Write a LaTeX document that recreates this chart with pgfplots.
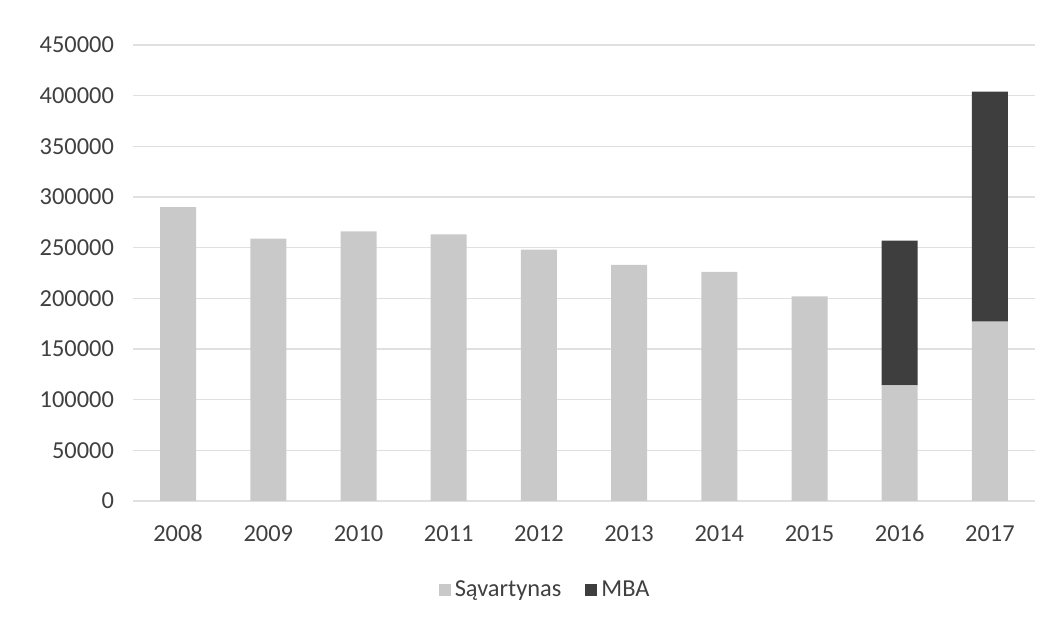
\documentclass[border=0pt]{standalone}
\usepackage{pgfplots}
\pgfplotsset{compat=1.18}
\usepackage{fontspec}
\setmainfont{Carlito}
\definecolor{lightbar}{HTML}{C9C9C9}
\definecolor{darkbar}{HTML}{3E3E3E}
\definecolor{txt}{HTML}{404040}
\definecolor{gridc}{HTML}{E0E0E0}
\begin{document}
\begin{tikzpicture}
\useasboundingbox (-66.5pt,-59.5pt) rectangle (461.5pt,250.5pt);
\begin{axis}[
  at={(0,0)}, anchor=south west,
  scale only axis, width=451pt, height=228pt,
  ybar stacked, bar width=18pt,
  xmin=-0.5, xmax=9.5, ymin=0, ymax=450000,
  xtick={0,...,9},
  xticklabels={2008,2009,2010,2011,2012,2013,2014,2015,2016,2017},
  ytick={0,50000,...,450000},
  scaled y ticks=false,
  y tick label style={/pgf/number format/fixed, /pgf/number format/1000 sep={}},
  /pgf/number format/assume math mode=true,
  axis line style={draw=none},
  major tick length=0pt,
  ymajorgrids, grid style={gridc, line width=0.8pt},
  tick label style={font=\fontsize{12.2}{14}\selectfont, text=txt},
  yticklabel style={xshift=-6pt},
  xticklabel style={anchor=base, yshift=-20.5pt},
  legend style={draw=none, at={(0.458,-0.195)}, anchor=center, font=\fontsize{12.2}{14}\selectfont, text=txt, legend columns=2, /tikz/every even column/.append style={column sep=10pt}},
  legend image code/.code={\fill[#1] (0pt,-3pt) rectangle (6pt,3pt);},
]
\addplot[fill=lightbar, draw=none] coordinates {(0,290000) (1,259000) (2,266000) (3,263000) (4,248000) (5,233000) (6,226000) (7,202000) (8,114000) (9,177000)};
\addplot[fill=darkbar, draw=none] coordinates {(0,0) (1,0) (2,0) (3,0) (4,0) (5,0) (6,0) (7,0) (8,143000) (9,227000)};
\draw[gridc, line width=0.8pt] (axis cs:-0.5,0) -- (axis cs:9.5,0);
\legend{Sąvartynas, MBA}
\end{axis}
\end{tikzpicture}
\end{document}
